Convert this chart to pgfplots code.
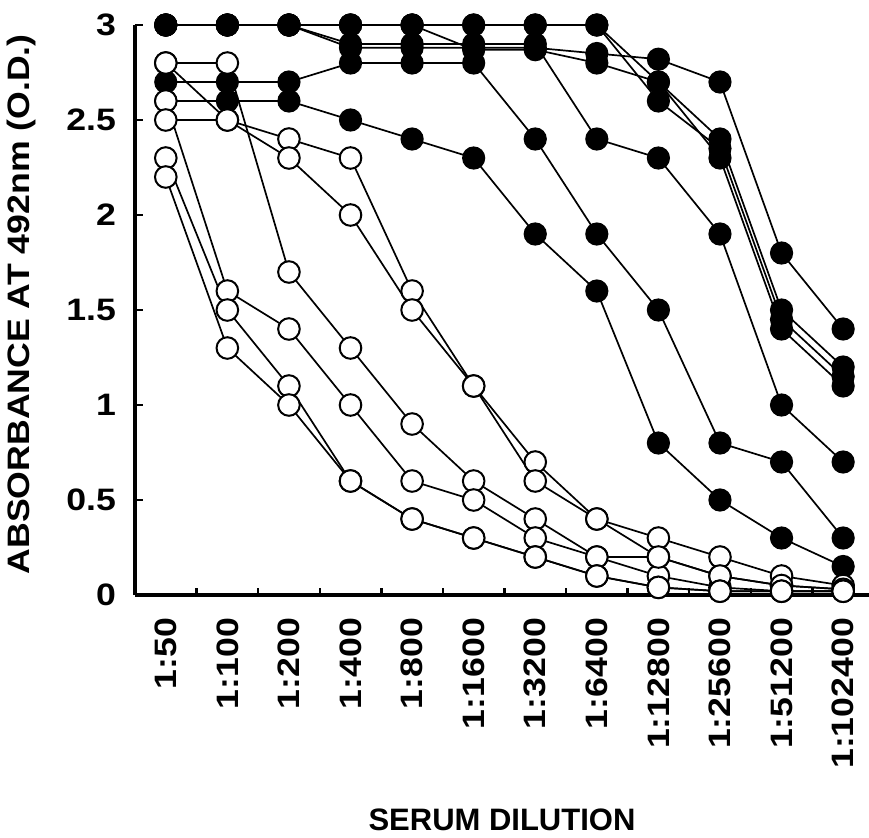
\documentclass[border=0pt]{standalone}
\usepackage{pgfplots}
\pgfplotsset{compat=1.18}
\usepackage{pgfplotstable}
\usepackage{fontspec}
\setmainfont{Liberation Sans}
\newcommand\w[1]{\scalebox{1.15}[1]{#1}}

% filled sera F1..F7, open sera Oa..Of; x = dilution step 0..11
\pgfplotstableread{
x  F1   F2  F3  F4   F5  F6   F7   Oa   Ob  Oc   Od   Oe   Of
0  2.6  2.7 3.0 3.0  3.0 3.0  3.0  2.8  2.8 2.6  2.5  2.3  2.2
1  2.6  2.7 3.0 3.0  3.0 3.0  3.0  2.8  2.5 1.6  2.5  1.5  1.3
2  2.6  2.7 3.0 3.0  3.0 3.0  3.0  1.7  2.4 1.4  2.3  1.1  1.0
3  2.5  2.8 2.9 2.88 3.0 3.0  3.0  1.3  2.3 1.0  2.0  0.6  0.6
4  2.4  2.8 2.9 2.88 3.0 3.0  3.0  0.9  1.6 0.6  1.5  0.4  0.4
5  2.3  2.8 2.9 2.88 3.0 3.0  2.87 0.6  1.1 0.5  1.1  0.3  0.3
6  1.9  2.4 2.9 2.88 3.0 3.0  2.87 0.4  0.7 0.3  0.6  0.2  0.2
7  1.6  1.9 2.4 2.85 3.0 3.0  2.8  0.2  0.4 0.2  0.4  0.1  0.1
8  0.8  1.5 2.3 2.82 2.7 2.6  2.7  0.2  0.3 0.1  0.2  0.04 0.04
9  0.5  0.8 1.9 2.7  2.4 2.35 2.3  0.1  0.2 0.04 0.1  0.02 0.02
10 0.3  0.7 1.0 1.8  1.5 1.45 1.4  0.05 0.1 0.02 0.05 0.02 0.02
11 0.15 0.3 0.7 1.4  1.2 1.15 1.1  0.03 0.05 0.02 0.03 0.02 0.02
}\dil

\begin{document}
\begin{tikzpicture}
\begin{axis}[
    at={(0,0)}, anchor=south west,
    scale only axis, width=367pt, height=285pt,
    xmin=-0.5, xmax=11.42, ymin=0, ymax=3,
    axis x line*=bottom, axis y line*=left,
    axis line style={line width=1.6pt, black},
    clip=false,
    xtick={0,...,11},
    xticklabels={\w{1:50},\w{1:100},\w{1:200},\w{1:400},\w{1:800},\w{1:1600},
        \w{1:3200},\w{1:6400},\w{1:12800},\w{1:25600},\w{1:51200},\w{1:102400}},
    major x tick style={draw=none},
    minor xtick={0.5,1.5,...,10.5},
    minor x tick style={line width=1.2pt, black},
    minor tick length=3.5pt,
    ytick={0,0.5,1,1.5,2,2.5,3},
    yticklabels={\w{0},\w{0.5},\w{1},\w{1.5},\w{2},\w{2.5},\w{3}},
    y tick style={line width=1.2pt, black},
    tick align=inside,
    major tick length=4pt,
    tick label style={font=\fontsize{15.5}{18}\selectfont\bfseries},
    xticklabel style={yshift=-8pt, rotate=90, anchor=east},
    yticklabel style={xshift=-6pt},
    xlabel={SERUM DILUTION},
    ylabel={\w{ABSORBANCE AT 492nm (O.D.)}},
    label style={font=\fontsize{15.5}{18}\selectfont\bfseries},
    xlabel style={at={(axis description cs:0.5,-0.395)}, anchor=center},
    ylabel style={at={(axis description cs:-0.155,0.51)}, anchor=center},
    filled/.style={black, line width=0.85pt, mark=*, mark size=5.4pt,
        mark options={solid, fill=black, line width=0.8pt}},
    open/.style={black, line width=0.85pt, mark=*, mark size=5.4pt,
        mark options={solid, fill=white, draw=black, line width=1pt}},
]
    \addplot[filled] table[x=x, y=F1] {\dil};
    \addplot[filled] table[x=x, y=F2] {\dil};
    \addplot[filled] table[x=x, y=F3] {\dil};
    \addplot[filled] table[x=x, y=F4] {\dil};
    \addplot[filled] table[x=x, y=F5] {\dil};
    \addplot[filled] table[x=x, y=F6] {\dil};
    \addplot[filled] table[x=x, y=F7] {\dil};

    \addplot[open] table[x=x, y=Oa] {\dil};
    \addplot[open] table[x=x, y=Ob] {\dil};
    \addplot[open] table[x=x, y=Oc] {\dil};
    \addplot[open] table[x=x, y=Od] {\dil};
    \addplot[open] table[x=x, y=Oe] {\dil};
    \addplot[open] table[x=x, y=Of] {\dil};
\end{axis}
\pgfresetboundingbox
\path[use as bounding box] (-67.5pt,-121pt) rectangle (367pt,297.5pt);
\end{tikzpicture}
\end{document}
